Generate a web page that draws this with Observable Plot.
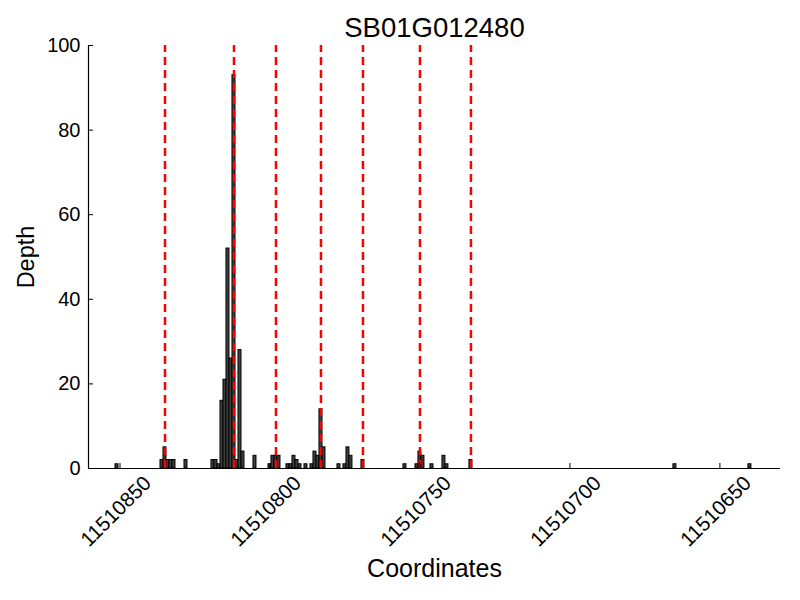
<!DOCTYPE html>
<html>
<head>
<meta charset="utf-8">
<script src="https://cdn.jsdelivr.net/npm/d3@7"></script>
<script src="https://cdn.jsdelivr.net/npm/@observablehq/plot@0.6"></script>
<style>
  html, body { margin: 0; padding: 0; background: #fff; }
</style>
</head>
<body>
<div id="chart"></div>
<script>
// Genomic coordinates (offset 11510000 added below) and read depths
const positions = [851, 836, 835, 834, 833, 832, 828, 819, 818, 817, 816, 815, 814, 813, 812, 811, 810, 809, 805,
  800, 799, 798, 797, 794, 793, 792, 791, 790, 788, 786, 785, 784, 783, 782, 777, 775, 774, 773, 769,
  755, 751, 750, 749, 746, 742, 741, 733, 665, 640];
const depths = [1, 2, 5, 2, 2, 2, 2, 2, 2, 1, 16, 21, 52, 26, 93, 2, 28, 4, 3,
  1, 3, 3, 3, 1, 1, 3, 2, 1, 1, 1, 4, 3, 14, 5, 1, 1, 5, 3, 2,
  1, 1, 4, 3, 1, 3, 1, 2, 1, 1];
const base = 11510000;
const exonBoundaries = [835, 812, 798, 783, 769, 750, 733];
const xTicks = [11510850, 11510800, 11510750, 11510700, 11510650];
const yTicks = [0, 20, 40, 60, 80, 100];
const xDomain = [11510860.5, 11510629.8];
const yDomain = [0, 100];
const title = "SB01G012480";
const xLabel = "Coordinates";
const yLabel = "Depth";

const data = positions.map((p, i) => ({pos: base + p, depth: depths[i]}));
const lines = exonBoundaries.map(p => base + p);

const W = 800, H = 600;
const mL = 88, mR = 20, mT = 45, mB = 132;
const font = "'Liberation Sans', Arial, Helvetica, sans-serif";

const chart = Plot.plot({
  width: W,
  height: H,
  marginLeft: mL,
  marginRight: mR,
  marginTop: mT,
  marginBottom: mB,
  style: {fontFamily: font, fontSize: "20px", background: "#fff", color: "#000"},
  x: {domain: xDomain, axis: null},
  y: {domain: yDomain, axis: null},
  marks: [
    Plot.rectY(data, {x1: d => d.pos - 0.5, x2: d => d.pos + 0.5, y1: 0, y2: "depth",
      fill: "#404040", stroke: "#000", strokeWidth: 1}),
    Plot.ruleX(lines, {x: d => d, y1: yDomain[0], y2: yDomain[1], stroke: "#ff0000",
      strokeWidth: 2.5, strokeDasharray: "8,5"}),
    // spines
    Plot.ruleX([xDomain[0]], {stroke: "#000", strokeWidth: 1.2}),
    Plot.ruleY([0], {stroke: "#000", strokeWidth: 1.2}),
    // inward tick marks
    Plot.tickY(yTicks, {y: d => d, insetRight: W - mL - mR - 5, stroke: "#000"}),
    Plot.tickX(xTicks, {x: d => d, insetTop: H - mT - mB - 5, stroke: "#000"}),
    // y tick labels
    Plot.axisY({ticks: yTicks, tickSize: 0, tickPadding: 8, fontSize: 20, label: null, tickFormat: d => String(d)}),
    // x tick labels (rotated)
    Plot.text(xTicks, {x: d => d, text: d => String(d), frameAnchor: "bottom", dx: -4, dy: 43,
      rotate: -45, textAnchor: "middle", lineAnchor: "middle", fontSize: 20.5, fill: "#000"}),
    // axis labels and title
    Plot.text([xLabel], {frameAnchor: "bottom", dy: 100, lineAnchor: "middle", textAnchor: "middle", fontSize: 25, fill: "#000"}),
    Plot.text([yLabel], {frameAnchor: "left", dx: -62, rotate: -90, lineAnchor: "middle", textAnchor: "middle", fontSize: 23.5, fill: "#000"}),
    Plot.text([title], {frameAnchor: "top", dy: -17, lineAnchor: "middle", textAnchor: "middle", fontSize: 27.5, fill: "#000"})
  ]
});
document.getElementById("chart").appendChild(chart);
</script>
</body>
</html>
